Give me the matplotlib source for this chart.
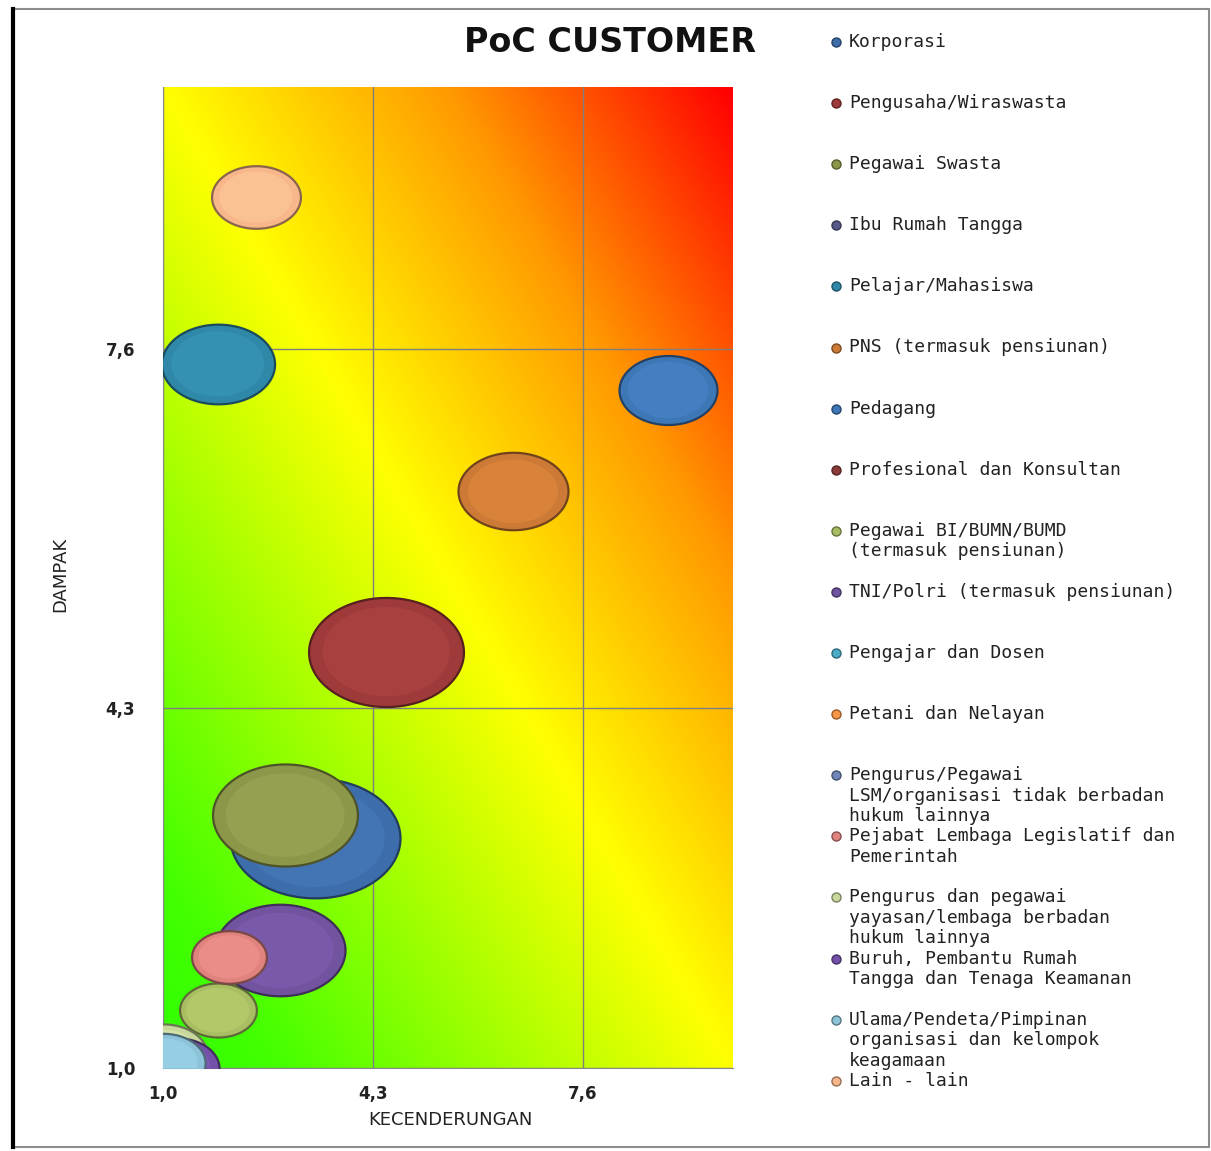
import numpy as np
import matplotlib
matplotlib.use("Agg")
import matplotlib.pyplot as plt
from matplotlib.path import Path
from matplotlib.colors import LinearSegmentedColormap, to_rgb
from matplotlib.patches import Rectangle
from matplotlib.lines import Line2D

# --- data ---
kategori = [
    "Korporasi",
    "Pengusaha/Wiraswasta",
    "Pegawai Swasta",
    "Ibu Rumah Tangga",
    "Pelajar/Mahasiswa",
    "PNS (termasuk pensiunan)",
    "Pedagang",
    "Profesional dan Konsultan",
    "Pegawai BI/BUMN/BUMD\n(termasuk pensiunan)",
    "TNI/Polri (termasuk pensiunan)",
    "Pengajar dan Dosen",
    "Petani dan Nelayan",
    "Pengurus/Pegawai\nLSM/organisasi tidak berbadan\nhukum lainnya",
    "Pejabat Lembaga Legislatif dan\nPemerintah",
    "Pengurus dan pegawai\nyayasan/lembaga berbadan\nhukum lainnya",
    "Buruh, Pembantu Rumah\nTangga dan Tenaga Keamanan",
    "Ulama/Pendeta/Pimpinan\norganisasi dan kelompok\nkeagamaan",
    "Lain - lain",
]
nan = np.nan
kecenderungan = [3.39, 4.51, 2.92, nan, 1.86, 6.50, 8.94, nan, 1.86, 2.84,
                 nan, nan, nan, 2.04, 1.00, 1.20, 1.00, 2.46]
dampak = [3.11, 4.82, 3.32, nan, 7.46, 6.29, 7.22, nan, 1.53, 2.08,
          nan, nan, nan, 2.02, 1.12, 1.00, 1.05, 8.99]
jumlah = [289, 240, 210, nan, 128, 121, 96, nan, 59, 169,
          nan, nan, nan, 56, 78, 74, 71, 79]
warna = ["#3D6DAA", "#9E3B3A", "#8C974A", "#565A88", "#2F88A8", "#CC7A35",
         "#3E77B6", "#8B3A3A", "#A9BE62", "#7153A0", "#4BACC6", "#F79646",
         "#6F87B8", "#E0837F", "#C8D79C", "#7451A8", "#8DC3D8", "#F8B78A"]

tick_vals = [1.0, 4.3, 7.6]
tick_labels = ["1,0", "4,3", "7,6"]

W, H = 1211, 1151
fig = plt.figure(figsize=(W / 100, H / 100), dpi=100)

def fx(px):
    return px / W

def fy(py):
    return 1 - py / H

ax = fig.add_axes([fx(163), fy(1068), fx(733) - fx(163), fy(87) - fy(1068)])
xmin, xmax, ymin, ymax = 1.0, 9.96, 1.0, 10.0

# gradient background: green -> yellow -> orange -> red along the diagonal
cmap = LinearSegmentedColormap.from_list(
    "risk", [(0, "#2EFF00"), (0.1, "#44FF00"), (0.5, "#FFFF00"),
             (0.75, "#FF9A00"), (1, "#FF0000")])
u = np.linspace(0, 1, 300)
uu, vv = np.meshgrid(u, u)
ax.imshow((uu + vv) / 2, cmap=cmap, origin="lower", aspect="auto",
          extent=[xmin, xmax, ymin, ymax], zorder=0, interpolation="bilinear")

# bubbles are stretched sideways in the picture -> ellipse marker
t = np.linspace(0, 2 * np.pi, 100)
elips = Path(np.column_stack([np.cos(t), np.sin(t) / 1.42]), closed=True)

for i in range(len(kategori)):
    if np.isnan(jumlah[i]):
        continue
    w_pt = np.sqrt(jumlah[i]) * 7.2
    c = np.array(to_rgb(warna[i]))
    ax.scatter([kecenderungan[i]], [dampak[i]], s=w_pt ** 2, marker=elips,
               color=c, edgecolors=c * 0.55, linewidths=1.6, zorder=3 + i)
    # soft highlight on top
    ax.scatter([kecenderungan[i]], [dampak[i]], s=(w_pt * 0.82) ** 2,
               marker=elips, color=np.minimum(c * 1.12 + 0.04, 1),
               edgecolors="none", alpha=0.35, zorder=3 + i)

ax.set_xlim(xmin, xmax)
ax.set_ylim(ymin, ymax)
ax.set_xticks(tick_vals)
ax.set_xticklabels(tick_labels)
ax.set_yticks(tick_vals)
ax.set_yticklabels(tick_labels)
ax.tick_params(length=0, labelsize=12, colors="#222222")
ax.tick_params(axis="y", pad=20)
ax.tick_params(axis="x", pad=12)
for lab in ax.get_xticklabels() + ax.get_yticklabels():
    lab.set_fontweight("bold")
ax.grid(True, color="#7F7F7F", linewidth=1.0, zorder=1)
ax.set_axisbelow(True)
for side in ["top", "right"]:
    ax.spines[side].set_visible(False)
for side in ["left", "bottom"]:
    ax.spines[side].set_color("#8A8A8A")

fig.text(fx(450), fy(1120), "KECENDERUNGAN", ha="center", va="center",
         fontsize=13, color="#222222")
fig.text(fx(60), fy(574), "DAMPAK", ha="center", va="center", rotation=90,
         fontsize=13, color="#222222")
fig.text(fx(610), fy(43), "PoC CUSTOMER", ha="center", va="center",
         fontsize=24, fontweight="bold", color="#111111")

# legend drawn by hand: entries at fixed pitch, long labels spill downwards
for i, nama in enumerate(kategori):
    yc = 42 + 61.1 * i
    fig.add_artist(Line2D([fx(836)], [fy(yc)], marker="o", markersize=6.5,
                          markerfacecolor=warna[i],
                          markeredgecolor=np.array(to_rgb(warna[i])) * 0.6,
                          linestyle="none"))
    fig.text(fx(849), fy(yc - 9), nama, ha="left", va="top", fontsize=13,
             family="DejaVu Sans Mono", color="#222222", linespacing=1.18)

# outer frame
fig.add_artist(Rectangle((fx(13), fy(1147)), fx(1209) - fx(13), fy(9) - fy(1147),
                         fill=False, edgecolor="#8C8C8C", linewidth=1.5,
                         transform=fig.transFigure))
fig.add_artist(Line2D([fx(13), fx(13)], [fy(9), fy(1147)], color="black",
                      linewidth=3, transform=fig.transFigure))

fig.savefig("out.png", dpi=100)
